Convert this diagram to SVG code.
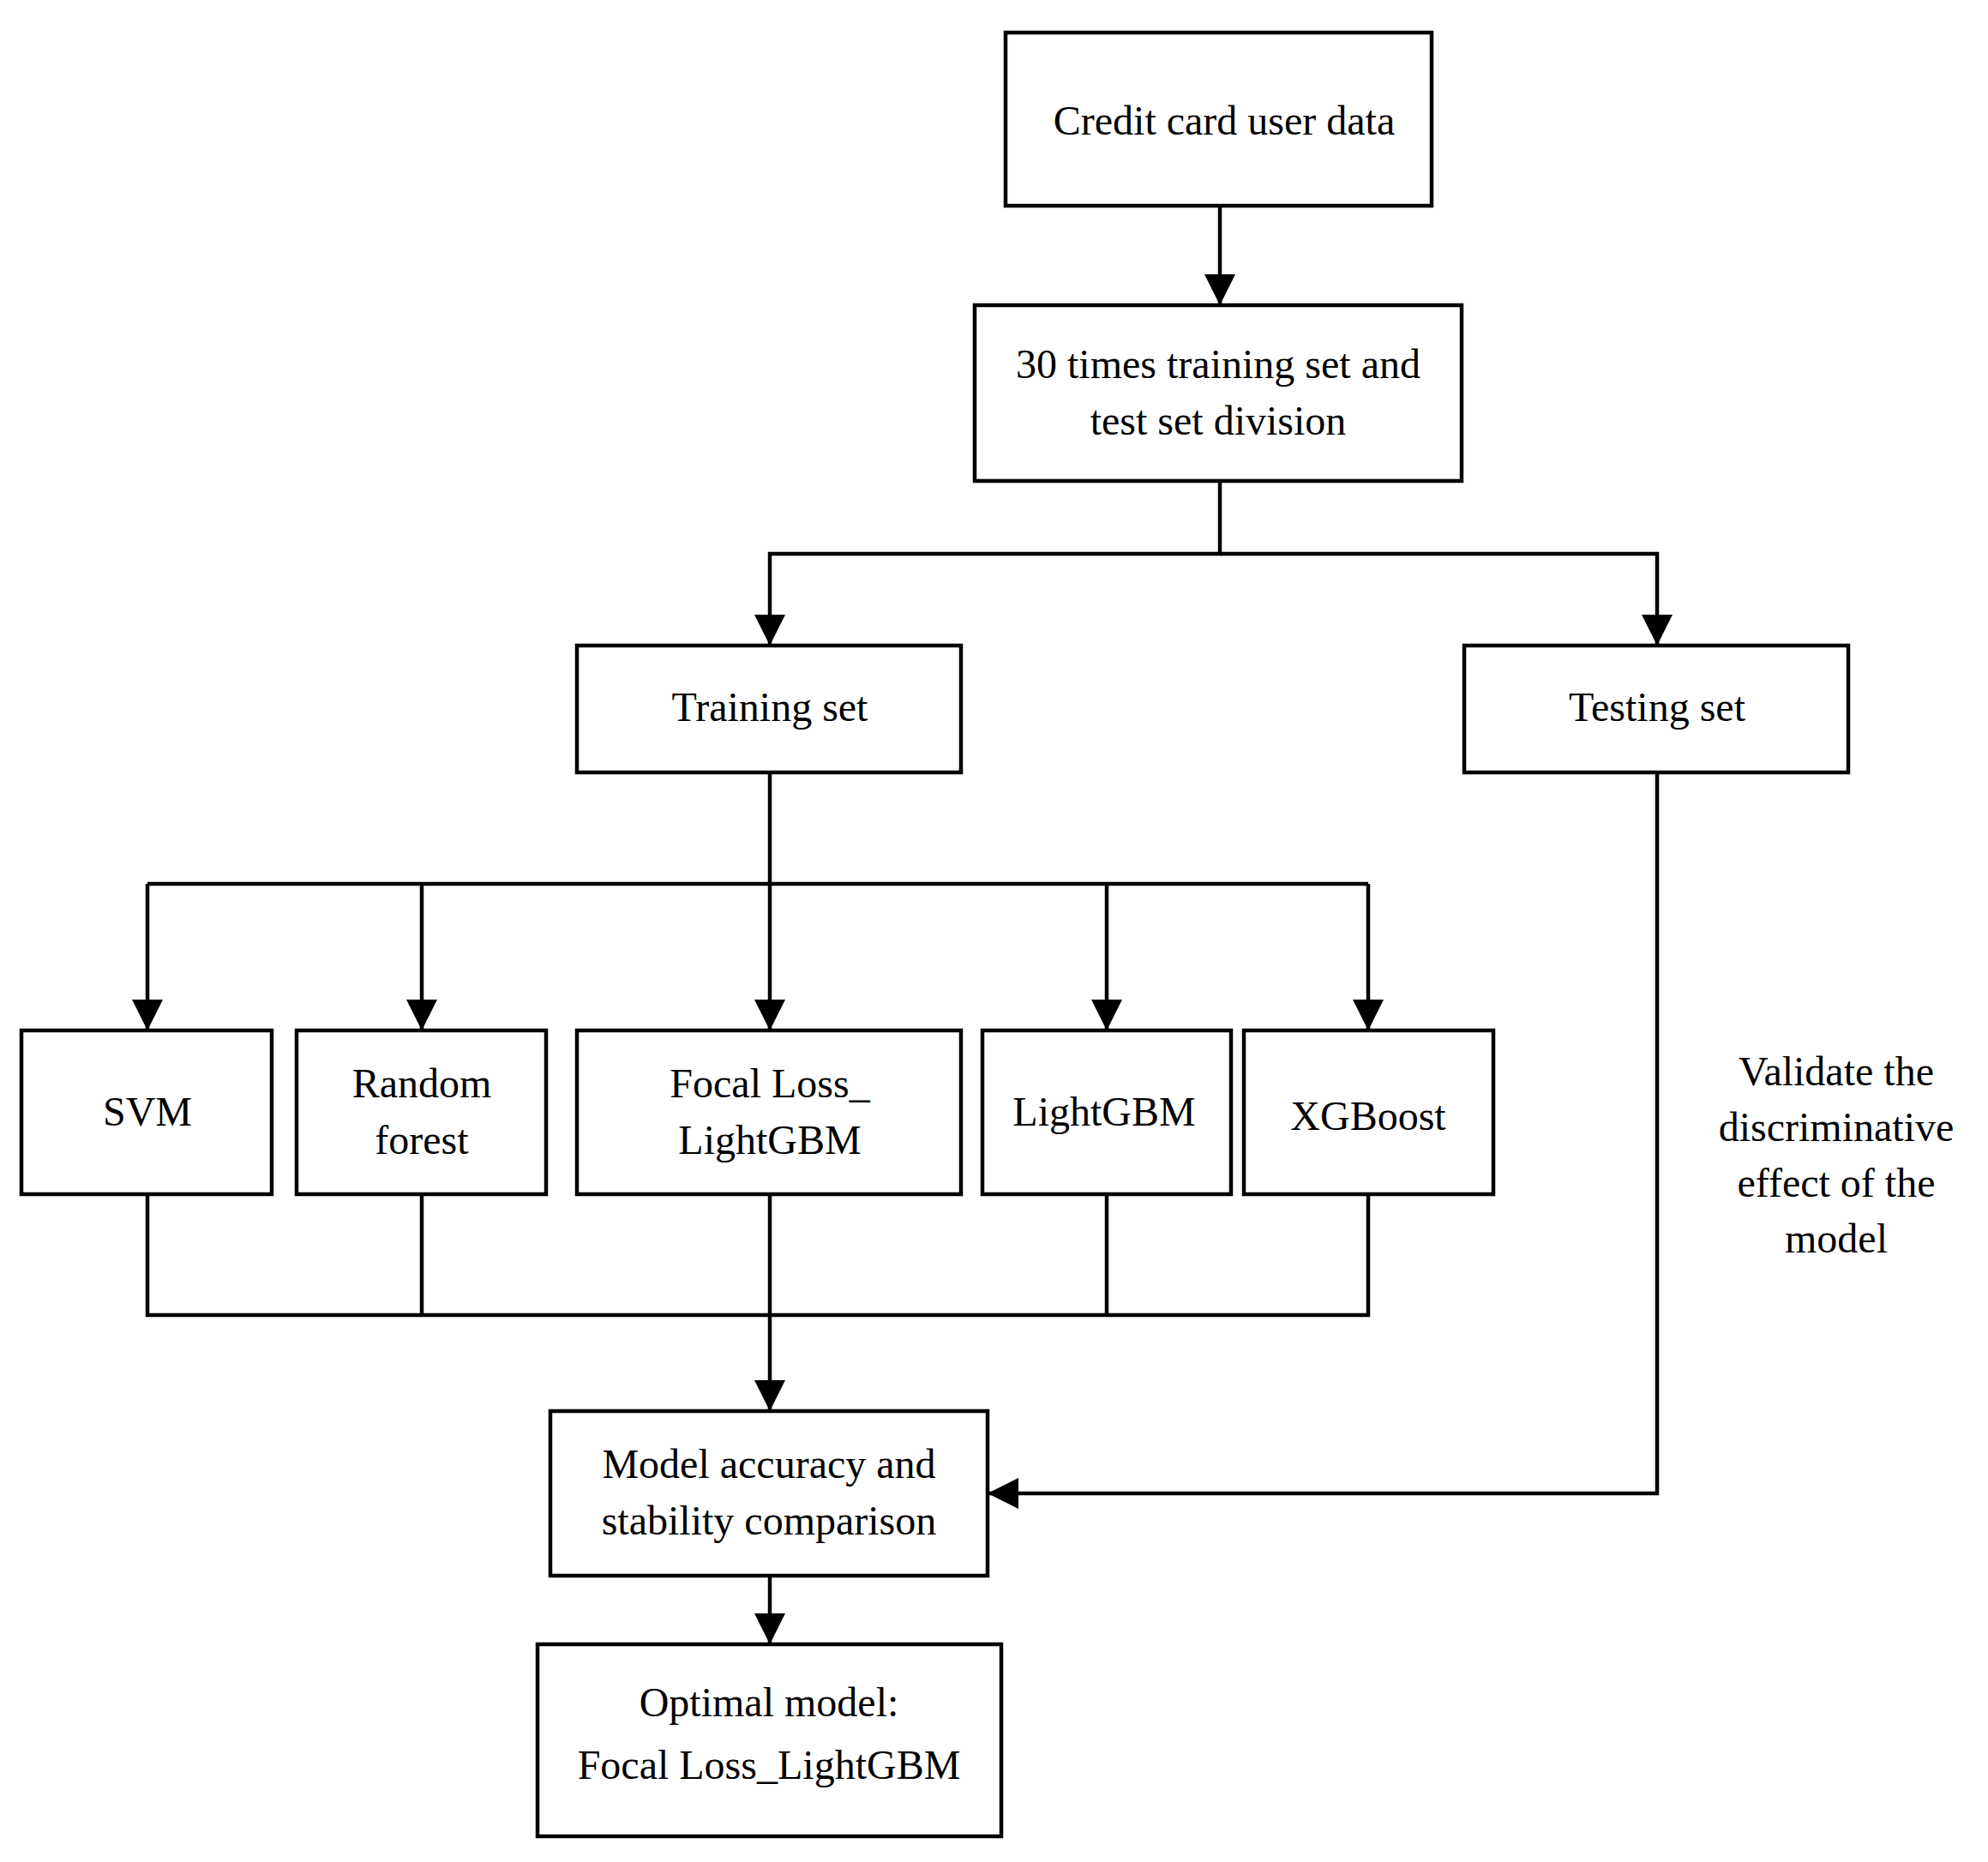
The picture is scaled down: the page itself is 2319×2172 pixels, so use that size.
<svg xmlns="http://www.w3.org/2000/svg" width="2319" height="2172" viewBox="0 0 2319 2172">
<style>
rect{fill:#fff;stroke:#000;stroke-width:4.5}
text{font-family:"Liberation Serif",serif;font-size:48px;text-anchor:middle;fill:#000}
.c path{fill:none;stroke:#000;stroke-width:4.5}
</style>
<defs><marker id="a" markerWidth="10" markerHeight="10" refX="9" refY="5" orient="auto" markerUnits="userSpaceOnUse" viewBox="0 0 10 10"><path d="M0,0L10,5L0,10z" fill="#000"/></marker>
<marker id="b" viewBox="0 0 10 10" refX="10" refY="5" markerWidth="36" markerHeight="36" markerUnits="userSpaceOnUse" orient="auto"><path d="M0,0L10,5L0,10z" fill="#000"/></marker></defs>
<rect width="2319" height="2172" style="stroke:none"/>
<g class="c">
<path d="M1423,240V356" marker-end="url(#b)"/>
<path d="M1423,561V646H898V753" marker-end="url(#b)"/>
<path d="M1423,646H1933V753" marker-end="url(#b)"/>
<path d="M898,901V1202" marker-end="url(#b)"/>
<path d="M172,1031H1596"/>
<path d="M172,1031V1202" marker-end="url(#b)"/>
<path d="M492,1031V1202" marker-end="url(#b)"/>
<path d="M1291,1031V1202" marker-end="url(#b)"/>
<path d="M1596,1031V1202" marker-end="url(#b)"/>
<path d="M172,1393V1534H1596V1393M492,1393V1534M1291,1393V1534"/>
<path d="M898,1393V1646" marker-end="url(#b)"/>
<path d="M1933,901V1742H1152" marker-end="url(#b)"/>
<path d="M898,1838V1918" marker-end="url(#b)"/>
</g>
<g id="n1"><rect x="1173" y="38" width="497" height="202"/><text x="1428" y="157">Credit card user data</text></g>
<g id="n2"><rect x="1137" y="356" width="568" height="205"/><text x="1421" y="441">30 times training set and</text><text x="1421" y="507">test set division</text></g>
<g id="n3"><rect x="673" y="753" width="448" height="148"/><text x="898" y="841">Training set</text></g>
<g id="n4"><rect x="1708" y="753" width="448" height="148"/><text x="1933" y="841">Testing set</text></g>
<g id="n5"><rect x="25" y="1202" width="292" height="191"/><text x="172" y="1313">SVM</text></g>
<g id="n6"><rect x="346" y="1202" width="291" height="191"/><text x="492" y="1280">Random</text><text x="492" y="1346">forest</text></g>
<g id="n7"><rect x="673" y="1202" width="448" height="191"/><text x="898" y="1280">Focal Loss_</text><text x="898" y="1346">LightGBM</text></g>
<g id="n8"><rect x="1146" y="1202" width="290" height="191"/><text x="1288" y="1313">LightGBM</text></g>
<g id="n9"><rect x="1451" y="1202" width="291" height="191"/><text x="1596" y="1318">XGBoost</text></g>
<g id="n10"><rect x="642" y="1646" width="510" height="192"/><text x="897" y="1724">Model accuracy and</text><text x="897" y="1790">stability comparison</text></g>
<g id="n11"><rect x="627" y="1918" width="541" height="224"/><text x="897" y="2002">Optimal model:</text><text x="897" y="2075">Focal Loss_LightGBM</text></g>
<g id="lbl"><text x="2142" y="1266">Validate the</text><text x="2142" y="1331">discriminative</text><text x="2142" y="1396">effect of the</text><text x="2142" y="1461">model</text></g>
</svg>
